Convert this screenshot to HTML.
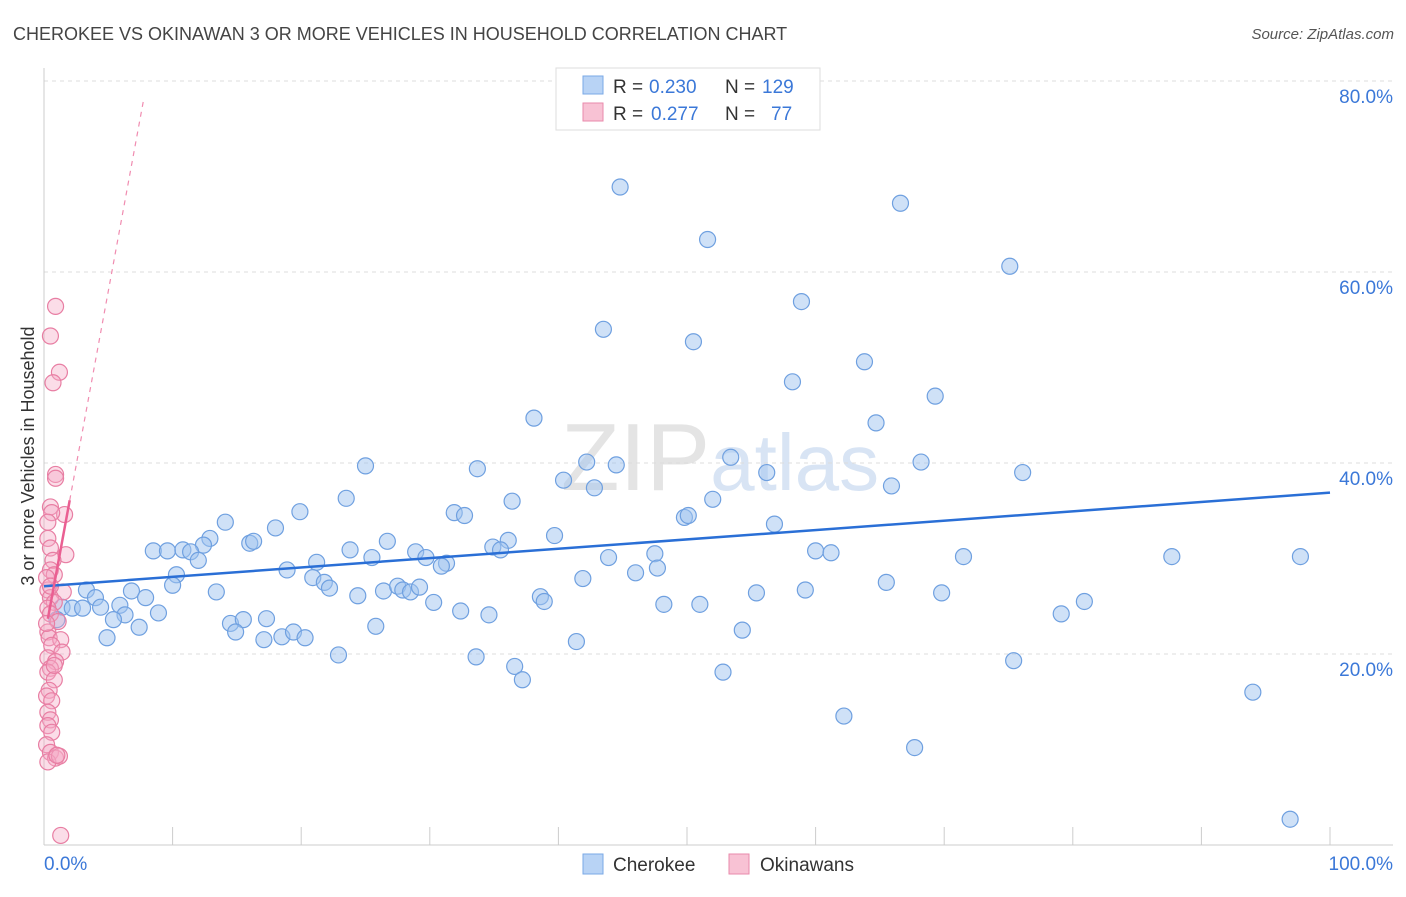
<!DOCTYPE html>
<html><head><meta charset="utf-8"><style>
body{margin:0;background:#fff;font-family:"Liberation Sans",sans-serif}
svg text{font-family:"Liberation Sans",sans-serif}
</style></head><body>
<svg id="chart" width="1406" height="892" viewBox="0 0 1406 892" xmlns="http://www.w3.org/2000/svg">
<text x="13" y="40" font-size="18" fill="#444">CHEROKEE VS OKINAWAN 3 OR MORE VEHICLES IN HOUSEHOLD CORRELATION CHART</text>
<text x="1394" y="39" font-size="15" fill="#555" font-style="italic" text-anchor="end">Source: ZipAtlas.com</text>
<text x="720" y="490" font-size="96" text-anchor="middle" fill="#e4e4e4" font-family="Liberation Serif">ZIP<tspan fill="#d8e4f4" font-family="Liberation Sans" font-size="80">atlas</tspan></text>
<g id="grid"></g>
<g id="axes"></g>
<text transform="translate(34,456) rotate(-90)" font-size="18" fill="#333" text-anchor="middle">3 or more Vehicles in Household</text>
<g id="pts"></g>
<g id="lines"></g>
<g>
<rect x="556" y="68" width="264" height="62" fill="#fff" stroke="#ddd"/>
<rect x="583" y="76" width="20" height="18" fill="#b8d3f5" stroke="#7aa8e6"/>
<rect x="583" y="103" width="20" height="18" fill="#f8c2d4" stroke="#e98aab"/>
<text x="613" y="93" font-size="19" fill="#333">R =</text>
<text x="649" y="93" font-size="19" fill="#3b78d8">0.230</text>
<text x="725" y="93" font-size="19" fill="#333">N =</text>
<text x="762" y="93" font-size="19" fill="#3b78d8">129</text>
<text x="613" y="120" font-size="19" fill="#333">R =</text>
<text x="651" y="120" font-size="19" fill="#3b78d8">0.277</text>
<text x="725" y="120" font-size="19" fill="#333">N =</text>
<text x="771" y="120" font-size="19" fill="#3b78d8">77</text>
</g>
<g>
<rect x="583" y="854" width="20" height="20" fill="#b8d3f5" stroke="#7aa8e6"/>
<text x="613" y="871" font-size="19" fill="#333">Cherokee</text>
<rect x="729" y="854" width="20" height="20" fill="#f8c2d4" stroke="#e98aab"/>
<text x="760" y="871" font-size="19" fill="#333">Okinawans</text>
</g>
</svg>
<script>
const blueX=[44.8,66.6,51.6,75.1,58.9,43.5,50.5,63.8,58.2,69.3,64.7,38.1,25.0,33.7,42.2,44.5,53.4,68.2,56.2,76.1,40.4,42.8,65.9,23.5,36.4,52.0,31.9,32.7,19.9,49.8,50.1,56.8,14.1,18.0,12.9,39.7,36.1,26.7,16.0,16.3,12.4,8.5,9.6,10.8,11.4,34.9,35.5,23.8,28.9,43.9,47.5,60.0,61.2,71.5,87.7,97.7,12.0,21.2,25.5,29.7,31.3,30.9,18.9,46.0,47.7,10.3,10.0,20.9,21.8,22.2,41.9,65.5,3.3,6.8,4.0,13.4,7.9,24.4,26.4,27.5,27.9,28.5,29.2,38.6,38.9,55.4,59.2,69.8,80.9,1.4,2.2,3.0,4.4,5.9,6.3,8.9,30.3,48.2,51.0,5.4,7.4,14.5,15.5,17.3,32.4,34.6,79.1,14.9,4.9,17.1,18.5,19.4,20.3,25.8,54.3,41.4,22.9,33.6,36.6,75.4,37.2,52.8,94.0,62.2,67.7,96.9,1.0];
const blueY=[68.9,67.2,63.4,60.6,56.9,54.0,52.7,50.6,48.5,47.0,44.2,44.7,39.7,39.4,40.1,39.8,40.6,40.1,39.0,39.0,38.2,37.4,37.6,36.3,36.0,36.2,34.8,34.5,34.9,34.3,34.5,33.6,33.8,33.2,32.1,32.4,31.9,31.8,31.6,31.8,31.4,30.8,30.8,30.9,30.7,31.2,30.9,30.9,30.7,30.1,30.5,30.8,30.6,30.2,30.2,30.2,29.8,29.6,30.1,30.1,29.5,29.2,28.8,28.5,29.0,28.3,27.2,28.0,27.5,26.9,27.9,27.5,26.7,26.6,25.9,26.5,25.9,26.1,26.6,27.1,26.7,26.5,27.0,26.0,25.5,26.4,26.7,26.4,25.5,24.9,24.8,24.8,24.9,25.1,24.1,24.3,25.4,25.2,25.2,23.6,22.8,23.2,23.6,23.7,24.5,24.1,24.2,22.3,21.7,21.5,21.8,22.3,21.7,22.9,22.5,21.3,19.9,19.7,18.7,19.3,17.3,18.1,16.0,13.5,10.2,2.7,23.6];
const pinkX=[0.9,0.5,1.2,0.7,0.9,0.9,1.6,0.5,0.6,0.3,0.3,0.5,1.7,0.7,0.5,0.8,0.3,1.5,0.5,0.8,0.3,0.5,1.1,0.3,0.4,1.3,0.6,1.4,0.3,0.9,0.5,0.3,0.8,0.4,0.2,0.6,0.3,0.5,0.3,0.6,0.2,0.5,0.9,0.3,1.2,1.0,1.3,0.2,0.5,0.2,0.8];
const pinkY=[56.4,53.3,49.5,48.4,38.8,38.4,34.6,35.4,34.8,33.8,32.1,31.1,30.4,29.8,28.8,28.3,26.7,26.5,25.9,25.4,24.8,24.2,23.4,22.3,21.7,21.5,20.9,20.2,19.6,19.2,18.5,18.1,17.3,16.2,15.6,15.1,13.9,13.1,12.5,11.8,10.5,9.7,9.1,8.7,9.3,9.4,1.0,28.0,27.1,23.2,18.8];
const yTicks=[20,40,60,80];
const xTickVals=[10,20,30,40,50,60,70,80,90,100];
const blueTrend=[27.1,36.9];
const pinkTrend=[21.5,7.3];
const NS="http://www.w3.org/2000/svg";
const sx=v=>44+v*12.86, sy=v=>845-v*9.55;
function mk(tag,attrs,parent){const e=document.createElementNS(NS,tag);for(const k in attrs)e.setAttribute(k,attrs[k]);parent.appendChild(e);return e;}
const grid=document.getElementById('grid'),axes=document.getElementById('axes'),pts=document.getElementById('pts'),lines=document.getElementById('lines');
yTicks.forEach(t=>{
 const l=mk('line',{x1:44,x2:1393,y1:sy(t),y2:sy(t),stroke:'#ddd','stroke-dasharray':'4,4'},grid);
  
 const tx=mk('text',{x:1393,y:sy(t)+22,'font-size':19,fill:'#3b78d8','text-anchor':'end'},grid);
 tx.textContent=t.toFixed(1)+'%';
  
});
mk('line',{x1:44,x2:44,y1:68,y2:845,stroke:'#ccc'},axes);
mk('line',{x1:44,x2:1393,y1:845,y2:845,stroke:'#ccc'},axes);
xTickVals.forEach(t=>{const l=mk('line',{x1:sx(t),x2:sx(t),y1:827,y2:845,stroke:'#ccc'},axes);
  });
let t0=mk('text',{x:44,y:870,'font-size':19,fill:'#3b78d8'},axes);t0.textContent='0.0%';

let t1=mk('text',{x:1393,y:870,'font-size':19,fill:'#3b78d8','text-anchor':'end'},axes);t1.textContent='100.0%';

blueX.forEach((x,i)=>{const c=mk('circle',{cx:sx(x),cy:sy(blueY[i]),r:8,fill:'rgba(160,196,240,0.5)',stroke:'#6fa0e0','stroke-width':1.2},pts);
  });
pinkX.forEach((x,i)=>{const c=mk('circle',{cx:sx(x),cy:sy(pinkY[i]),r:8,fill:'rgba(244,170,198,0.4)',stroke:'#e87ea3','stroke-width':1.2},pts);
  });
let bl=mk('line',{x1:sx(0),y1:sy(blueTrend[0]),x2:sx(100),y2:sy(blueTrend[1]),stroke:'#2a6fd6','stroke-width':2.5},lines);

const pf=x=>pinkTrend[0]+pinkTrend[1]*x;
let pd=mk('line',{x1:sx(2.0),y1:sy(pf(2.0)),x2:sx(7.75),y2:sy(pf(7.75)),stroke:'#f08cb0','stroke-width':1.2,'stroke-dasharray':'5,5'},lines);

let ps=mk('line',{x1:sx(0.3),y1:sy(pf(0.3)),x2:sx(2.0),y2:sy(pf(2.0)),stroke:'#ea5f92','stroke-width':2.5},lines);

</script>
</body></html>
